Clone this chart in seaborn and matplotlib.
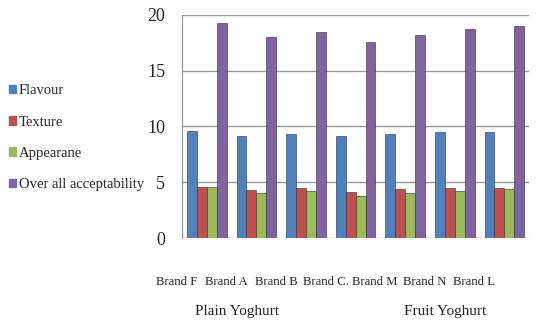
import pandas as pd
import matplotlib
import matplotlib.pyplot as plt
import matplotlib.transforms as mtransforms
import seaborn as sns

brands = ['Brand F', 'Brand A', 'Brand B', 'Brand C.', 'Brand M', 'Brand N', 'Brand L']
flavour = [9.6, 9.1, 9.3, 9.1, 9.3, 9.5, 9.5]
texture = [4.6, 4.3, 4.5, 4.1, 4.4, 4.5, 4.5]
appearance = [4.6, 4.0, 4.2, 3.8, 4.0, 4.2, 4.4]
overall = [19.3, 18.0, 18.5, 17.6, 18.2, 18.7, 19.0]
series_names = ['Flavour', 'Texture', 'Appearane', 'Over all acceptability']
group_names = ['Plain Yoghurt', 'Fruit Yoghurt']

colors = ['#4F81BD', '#C0504D', '#9BBB59', '#8064A2']

# long-form table for seaborn
rows = []
for name, vals in zip(series_names, [flavour, texture, appearance, overall]):
    for b, v in zip(brands, vals):
        rows.append({'Brand': b, 'Attribute': name, 'Score': v})
df = pd.DataFrame(rows)

sns.set_style('white')
plt.rcParams['font.family'] = ['Liberation Serif', 'DejaVu Serif']

fig = plt.figure(figsize=(5.4, 3.23), dpi=100)
ax = fig.add_axes([0.337, 0.263, 0.643, 0.691])

sns.barplot(data=df, x='Brand', y='Score', hue='Attribute', palette=colors,
            width=0.8, ax=ax, edgecolor='#2a2a40', linewidth=0.4, saturation=1)

ax.set_ylim(0, 20)
ax.set_yticks([0, 5, 10, 15, 20])
ax.yaxis.grid(True, color='#9a9a9a', linewidth=1.0)
ax.set_axisbelow(True)
for s in ['top', 'right', 'bottom']:
    ax.spines[s].set_visible(False)
ax.spines['left'].set_color('#8a8a8a')
ax.tick_params(axis='y', labelsize=13, pad=12, length=0)
ax.tick_params(axis='x', labelsize=9.2, pad=27, length=0)
ax.set_xlabel('')
ax.set_ylabel('')

# shift category labels left like the original perspective layout
offset = mtransforms.ScaledTranslation(-0.3, 0, fig.dpi_scale_trans)
for lab in ax.get_xticklabels():
    lab.set_transform(lab.get_transform() + offset)

ax.get_legend().remove()
handles = [plt.Rectangle((0, 0), 1, 1, color=c) for c in colors]
fig.legend(handles, series_names, loc='upper left', bbox_to_anchor=(0.005, 0.757),
           frameon=False, fontsize=10.5, handlelength=0.5, handleheight=0.5,
           handletextpad=0.2, labelspacing=1.25, borderaxespad=0)

fig.text(237 / 540, 1 - 312 / 323, group_names[0], ha='center', va='center', fontsize=11)
fig.text(445 / 540, 1 - 312 / 323, group_names[1], ha='center', va='center', fontsize=11)

fig.savefig('out.png', dpi=100)
